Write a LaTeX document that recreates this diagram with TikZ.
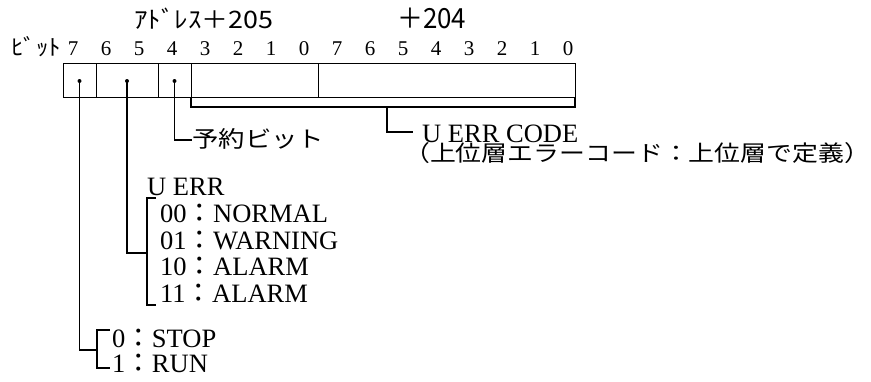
\documentclass[tikz,border=0pt]{standalone}
\usepackage{fontspec}
\usepackage{graphicx}
\setmainfont{Liberation Serif}
\newfontfamily\jp{Noto Sans CJK JP}
\begin{document}
\begin{tikzpicture}[x=1pt,y=-1pt,
  txt/.style={inner sep=0pt, anchor=base west, font=\fontsize{26.5}{30}\selectfont},
  jtxt/.style={inner sep=0pt, anchor=base west},
  bitnum/.style={inner sep=0pt, anchor=base, font=\fontsize{21}{24}\selectfont},
  conn/.style={line width=1.1pt},
  frm/.style={line width=1pt},
  dotc/.style={circle, fill=black, inner sep=0pt, minimum size=4pt}]
\useasboundingbox (0,0) rectangle (871,381);

% headers
\node[jtxt] (h205) at (134,28) {\resizebox{139pt}{20.5pt}{\fontsize{22}{23}\selectfont\jp ｱﾄﾞﾚｽ＋205}};
\node[jtxt] (h204) at (397,28) {\resizebox{69pt}{20.5pt}{\fontsize{22}{23}\selectfont\jp ＋204}};
\node[jtxt] (hbit) at (11,55) {\resizebox{50pt}{19pt}{\fontsize{21}{21}\selectfont\jp ﾋﾞｯﾄ}};

% bit numbers
\foreach \k/\d in {0/7,1/6,2/5,3/4,4/3,5/2,6/1,7/0,8/7,9/6,10/5,11/4,12/3,13/2,14/1,15/0}{
  \node[bitnum] (n\k) at ({73+33*\k},55) {\d};
}

% register box
\draw[frm] (63,63) rectangle (575,97);
\draw[frm] (96,63) -- (96,97);
\draw[frm] (158,63) -- (158,97);
\draw[frm] (191,63) -- (191,97);
\draw[frm] (318,63) -- (318,97);

% dots
\node[dotc] (d7) at (79.5,81) {};
\node[dotc] (d65) at (127,81) {};
\node[dotc] (d4) at (174.5,81) {};

% bracket under bits 3..0 / 7..0
\coordinate (bl) at (191,97);
\coordinate (br) at (575,97);
\coordinate (bm) at (387,107);
\draw[conn] (bl) -- (191,107) -- (575,107) -- (br);

% U ERR CODE
\coordinate (ue) at (413,132);
\draw[conn] (bm) |- (ue);
\node[txt] (uecode) at (422,142) {U ERR CODE};
\node[jtxt] (uedesc) at (404,161) {\resizebox{466pt}{19pt}{\fontsize{22}{22}\selectfont\jp （上位層エラーコード：上位層で定義）}};

% reserved bit
\coordinate (rs) at (192,140);
\draw[conn] (d4.center) |- (rs);
\node[jtxt] (resv) at (192,147) {\resizebox{132pt}{19pt}{\fontsize{22}{22}\selectfont\jp 予約ビット}};

% U ERR
\coordinate (ue2) at (147,253);
\draw[conn] (d65.center) |- (ue2);
\draw[conn] (156,198) -- (147,198) -- (147,305) -- (156,305);
\node[txt] (uerr) at (147,195) {U ERR};
\node[txt] (e00) at (160,222) {00{\jp ：}NORMAL};
\node[txt] (e01) at (160,249) {01{\jp ：}WARNING};
\node[txt] (e10) at (160,275) {10{\jp ：}ALARM};
\node[txt] (e11) at (160,302) {11{\jp ：}ALARM};

% run/stop
\coordinate (rn) at (97,350);
\draw[conn] (d7.center) |- (rn);
\draw[conn] (110,330) -- (97,330) -- (97,368) -- (110,368);
\node[txt] (stop) at (112,347) {0{\jp ：}STOP};
\node[txt] (run) at (112,372) {1{\jp ：}RUN};
\end{tikzpicture}
\end{document}
